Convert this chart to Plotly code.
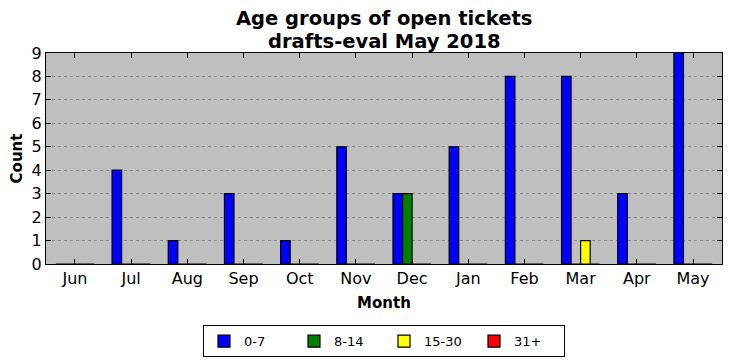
import plotly.graph_objects as go

months = ["Jun", "Jul", "Aug", "Sep", "Oct", "Nov", "Dec", "Jan", "Feb", "Mar", "Apr", "May"]
age_0_7 = [0, 4, 1, 3, 1, 5, 3, 5, 8, 8, 3, 9]
age_8_14 = [0, 0, 0, 0, 0, 0, 3, 0, 0, 0, 0, 0]
age_15_30 = [0, 0, 0, 0, 0, 0, 0, 0, 0, 1, 0, 0]
age_31_plus = [0, 0, 0, 0, 0, 0, 0, 0, 0, 0, 0, 0]
title_lines = ["Age groups of open tickets", "drafts-eval May 2018"]

series = [("0-7", age_0_7, "#0000ff"), ("8-14", age_8_14, "#008000"),
          ("15-30", age_15_30, "#ffff00"), ("31+", age_31_plus, "#ff0000")]

fig = go.Figure()
for name, vals, col in series:
    fig.add_trace(go.Bar(x=list(range(len(months))), y=vals, name=name,
                         marker=dict(color=col, line=dict(color="black", width=1.2))))

font = "DejaVu Sans, sans-serif"
W, H = 724, 353  # page body has an 8px margin
plot_h = H - 45 - 97
for i, line in enumerate(title_lines):
    fig.add_annotation(text="<b>%s</b>" % line, xref="paper", yref="paper",
                       x=0.5, xanchor="center", y=1 + (34 - 22 * i) / plot_h,
                       yanchor="middle", showarrow=False,
                       font=dict(size=19.5, family=font, color="black"))

fig.update_layout(
    width=W, height=H,
    margin=dict(l=38, r=10, t=45, b=97, autoexpand=False),
    barmode="group", bargap=0.32, bargroupgap=0,
    plot_bgcolor="#bfbfbf", paper_bgcolor="white",
    font=dict(family=font, size=15, color="black"),
    legend=dict(orientation="h", x=0.5, xanchor="center", y=-0.29, yanchor="top",
                bordercolor="black", borderwidth=1, font=dict(size=13),
                itemwidth=30, entrywidth=45, entrywidthmode="pixels", tracegroupgap=0),
    showlegend=True,
)
fig.update_xaxes(
    range=[-0.516, 11.516], tickvals=list(range(len(months))), ticktext=months,
    ticks="inside", ticklen=5, tickcolor="black", showline=True, linecolor="black",
    linewidth=1, mirror="ticks", showgrid=False, zeroline=False, automargin=False,
    title=dict(text="<b>Month</b>", font=dict(size=15), standoff=10),
    tickfont=dict(size=16),
)
fig.update_yaxes(
    range=[0, 9], dtick=1, ticks="inside", ticklen=5, tickcolor="black",
    showline=True, linecolor="black", linewidth=1, mirror="ticks", automargin=False,
    showgrid=True, gridcolor="#8a8a8a", griddash="dot", gridwidth=1, zeroline=False,
    title=dict(text="<b>Count</b>", font=dict(size=15), standoff=6),
    tickfont=dict(size=16),
)
fig.write_html("out.html")
